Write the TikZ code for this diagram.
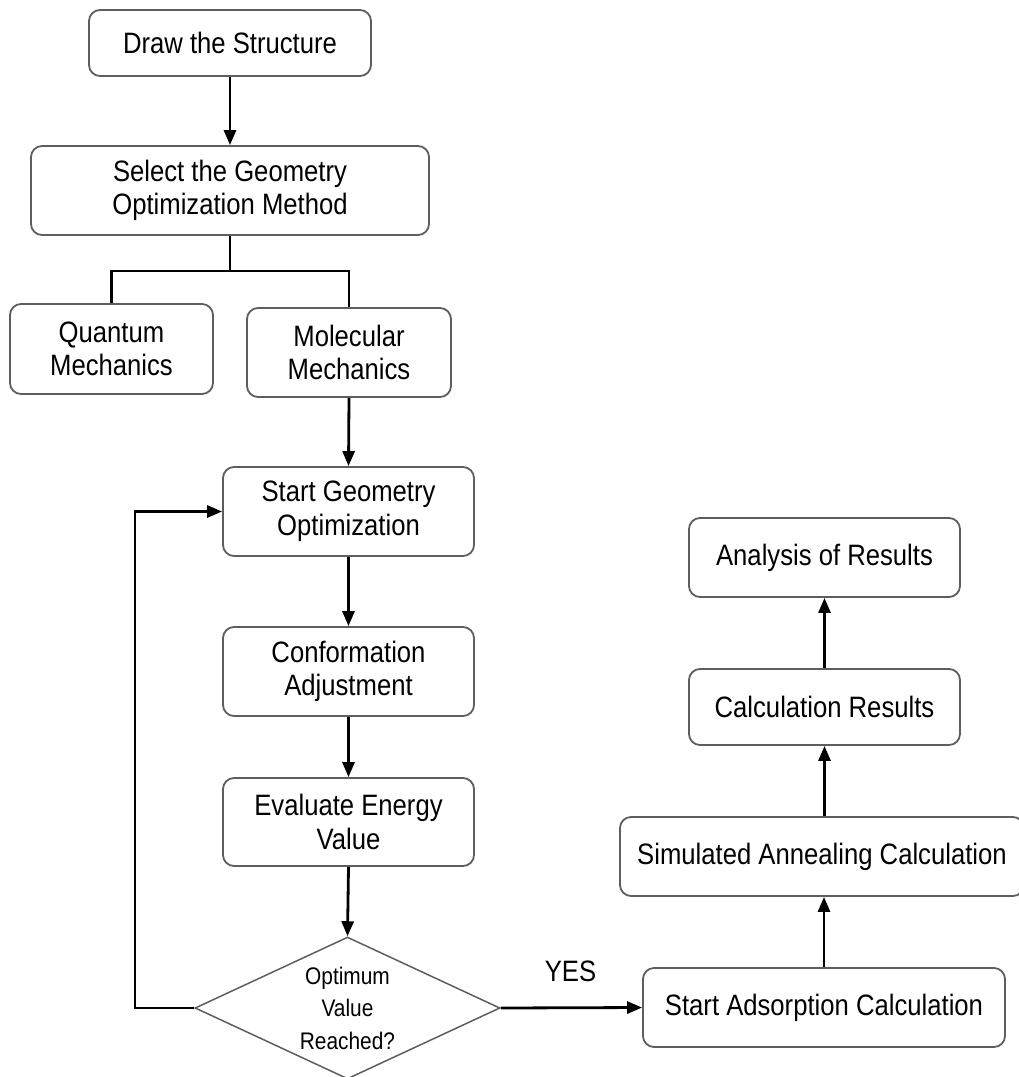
\documentclass[tikz,border=0pt]{standalone}
\usepackage{fontspec}
\setmainfont[FakeStretch=0.87]{Liberation Sans}
\usetikzlibrary{shapes.geometric,arrows.meta}
\definecolor{boxgray}{HTML}{5E5E5E}
\begin{document}
\begin{tikzpicture}[x=1pt,y=-1pt,
  box/.style={draw=boxgray, line width=1.8pt, rounded corners=11pt, align=center,
    inner sep=0pt, font=\fontsize{29.5}{33.5}\selectfont, text=black},
  decision/.style={draw=boxgray, line width=1.5pt, shape=diamond, aspect=2.15,
    inner sep=0pt, align=center, font=\fontsize{24}{32.5}\selectfont, text=black},
  lbl/.style={font=\fontsize{29.5}{33}\selectfont, text=black, inner sep=0pt},
  conn/.style={line width=2.8pt, black, line join=miter},
  arr/.style={conn, -{Triangle[length=15pt,width=12pt]}},
]
\useasboundingbox (0,0) rectangle (1019,1077);
\clip (0,0) rectangle (1019,1077);

\node[box, minimum width=282pt, minimum height=66pt] (draw) at (230,43) {Draw the Structure};
\node[box, minimum width=398pt, minimum height=89pt] (select) at (230,190.5) {Select the Geometry\\Optimization Method};
\node[box, minimum width=203pt, minimum height=90pt] (quantum) at (111.5,349) {Quantum\\Mechanics};
\node[box, minimum width=204pt, minimum height=89pt] (molecular) at (349,352.5) {Molecular\\Mechanics};
\node[box, minimum width=251pt, minimum height=89pt] (startgeo) at (348.5,511.5) {Start Geometry\\Optimization};
\node[box, minimum width=251pt, minimum height=89pt] (conf) at (348.5,671.5) {Conformation\\Adjustment};
\node[box, minimum width=251pt, minimum height=88pt] (eval) at (348.5,822) {Evaluate Energy\\Value};
\node[decision, minimum width=305pt, minimum height=142pt] (dec) at (347.5,1008) {Optimum\\Value\\Reached?};
\node[box, minimum width=362pt, minimum height=79pt] (adsorb) at (824,1007.5) {Start Adsorption Calculation};
\node[box, minimum width=404pt, minimum height=79pt] (sim) at (822,856.5) {Simulated Annealing Calculation};
\node[box, minimum width=271pt, minimum height=76pt] (calc) at (824.5,707) {Calculation Results};
\node[box, minimum width=271pt, minimum height=79pt] (anal) at (824.5,557.5) {Analysis of Results};
\node[lbl] (yes) at (570.5,971) {YES};

\coordinate (br) at (230,271);
\coordinate (loop) at (135,1008);

\draw[arr] (draw.south) -- (select.north);
\draw[conn] (select.south) -- (br);
\draw[conn] (quantum.north) |- (br) -| (molecular.north);
\draw[arr] (molecular.south) -- (startgeo.north);
\draw[arr] (startgeo.south) -- (conf.north);
\draw[arr] (conf.south) -- (eval.north);
\draw[arr] (eval.south) -- (dec.north);
\draw[arr] (dec.west) -- (loop) |- (startgeo.west);
\draw[arr] (dec.east) -- (adsorb.west);
\draw[arr] (adsorb.north) -- (adsorb.north |- sim.south);
\draw[arr] (sim.north -| calc.south) -- (calc.south);
\draw[arr] (calc.north) -- (anal.south);
\end{tikzpicture}
\end{document}
